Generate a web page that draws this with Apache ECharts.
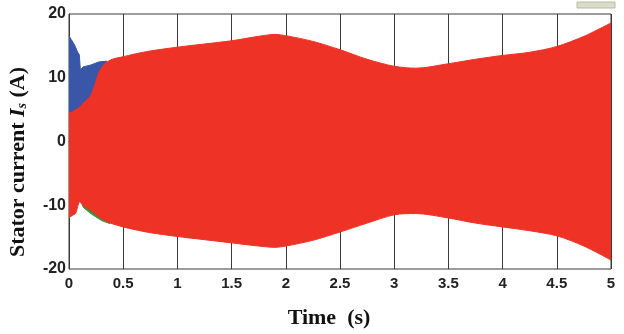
<!DOCTYPE html>
<html>
<head>
<meta charset="utf-8">
<script src="https://cdn.jsdelivr.net/npm/echarts@6/dist/echarts.min.js"></script>
<style>
  html, body { margin: 0; padding: 0; background: #fff; }
  #chart { width: 624px; height: 334px; }
</style>
</head>
<body>
<div id="chart"></div>
<script>
// Envelope of the three stator phase currents (A) over time (s)
const redTime  = [0, 0.03, 0.06, 0.1, 0.12, 0.15, 0.2, 0.25, 0.28, 0.33, 0.4, 0.5, 0.6, 0.75, 1.0, 1.25, 1.5, 1.75, 1.9, 2.0, 2.25, 2.5, 2.75, 3.0, 3.2, 3.5, 3.75, 4.0, 4.25, 4.5, 4.75, 5.0];
const redUpper = [4.5, 4.6, 5.0, 5.4, 5.8, 6.3, 7.2, 9.5, 11.0, 12.2, 12.9, 13.3, 13.7, 14.2, 14.8, 15.3, 15.8, 16.5, 16.8, 16.6, 15.7, 14.4, 12.9, 11.8, 11.5, 12.2, 12.9, 13.5, 14.0, 14.9, 16.5, 18.6];
const redLower = [-12.0, -11.6, -11.3, -9.4, -9.9, -10.3, -10.8, -11.5, -11.9, -12.4, -12.9, -13.4, -13.8, -14.3, -14.9, -15.4, -15.9, -16.4, -16.6, -16.4, -15.5, -14.2, -12.8, -11.5, -11.3, -12.0, -12.8, -13.4, -14.0, -14.8, -16.4, -18.6];

const blueTime  = [0, 0.02, 0.05, 0.08, 0.095, 0.105, 0.13, 0.2, 0.28, 0.35];
const blueUpper = [16.6, 16.0, 15.2, 14.0, 13.6, 11.2, 11.7, 12.0, 12.5, 12.6];

const greenTime  = [0, 0.1, 0.11, 0.13, 0.2, 0.3, 0.38];
const greenLower = [-12.0, -9.3, -8.4, -10.3, -11.3, -12.4, -12.9];

const xTicks = [0, 0.5, 1, 1.5, 2, 2.5, 3, 3.5, 4, 4.5, 5];
const yTicks = [-20, -10, 0, 10, 20];

const RED = '#ee3326', BLUE = '#3a56a8', GREEN = '#2f9a3a';
const pairs = (xs, ys) => xs.map((x, i) => [x, ys[i]]);

// Filled envelope; the fill runs from the curve to `origin`
function area(name, data, color, z, origin, smooth) {
  return {
    name, type: 'line', data, z,
    symbol: 'none', silent: true,
    smooth: smooth || false,
    lineStyle: { color, width: 1 },
    areaStyle: { color, opacity: 1, origin }
  };
}

const chart = echarts.init(document.getElementById('chart'), null, { renderer: 'canvas' });
chart.setOption({
  animation: false,
  backgroundColor: '#fff',
  grid: { left: 69, right: 13, top: 14, bottom: 65, show: true, borderColor: '#3a3a3a', borderWidth: 1 },
  xAxis: {
    type: 'value', min: 0, max: 5, interval: 0.5,
    axisLine: { show: true, lineStyle: { color: '#3a3a3a', width: 1 } },
    axisTick: { show: false },
    splitLine: { show: true, lineStyle: { color: '#3a3a3a', width: 1 } },
    axisLabel: {
      color: '#222', fontFamily: 'Liberation Sans Narrow, Arial Narrow, sans-serif',
      fontWeight: 'bold', fontSize: 15, margin: 7,
      formatter: v => xTicks.includes(v) ? String(v) : ''
    },
    name: 'Time  (s)', nameLocation: 'middle', nameGap: 38,
    nameTextStyle: { color: '#111', fontFamily: 'Liberation Serif, Times New Roman, serif', fontWeight: 'bold', fontSize: 22, padding: [0, 22, 0, 0] }
  },
  yAxis: {
    type: 'value', min: -20, max: 20, interval: 10,
    axisLine: { show: true, lineStyle: { color: '#3a3a3a', width: 1 } },
    axisTick: { show: false },
    splitLine: { show: false },
    axisLabel: {
      color: '#222', fontFamily: 'Liberation Sans Narrow, Arial Narrow, sans-serif',
      fontWeight: 'bold', fontSize: 16, margin: 3,
      formatter: v => yTicks.includes(v) ? String(v) : ''
    }
  },
  graphic: [
    {
      type: 'text', x: 18, y: 162, rotation: Math.PI / 2,
      style: {
        text: '{t|Stator current }{i|I}{s|s}{t| (A)}',
        align: 'center', verticalAlign: 'middle',
        rich: {
          t: { fontFamily: 'Liberation Serif, Times New Roman, serif', fontWeight: 'bold', fontSize: 22, fill: '#111' },
          i: { fontFamily: 'Liberation Serif, Times New Roman, serif', fontWeight: 'bold', fontStyle: 'italic', fontSize: 22, fill: '#111' },
          s: { fontFamily: 'Liberation Serif, Times New Roman, serif', fontWeight: 'bold', fontStyle: 'italic', fontSize: 14, fill: '#111', padding: [8, 0, 0, 0] }
        }
      }
    },
    {
      type: 'rect', shape: { x: 577, y: 2, width: 38, height: 6 },
      style: { fill: '#d9dcc8', stroke: '#b8bca0', lineWidth: 1 }
    }
  ],
  series: [
    area('Phase b', pairs(blueTime, blueUpper), BLUE, 1, 0),
    area('Phase c', pairs(greenTime, greenLower), GREEN, 1, 0),
    area('Phase a upper', pairs(redTime, redUpper), RED, 2, -4, 0.3),
    area('Phase a lower', pairs(redTime, redLower), RED, 2, 4, 0.3)
  ]
});
</script>
</body>
</html>
